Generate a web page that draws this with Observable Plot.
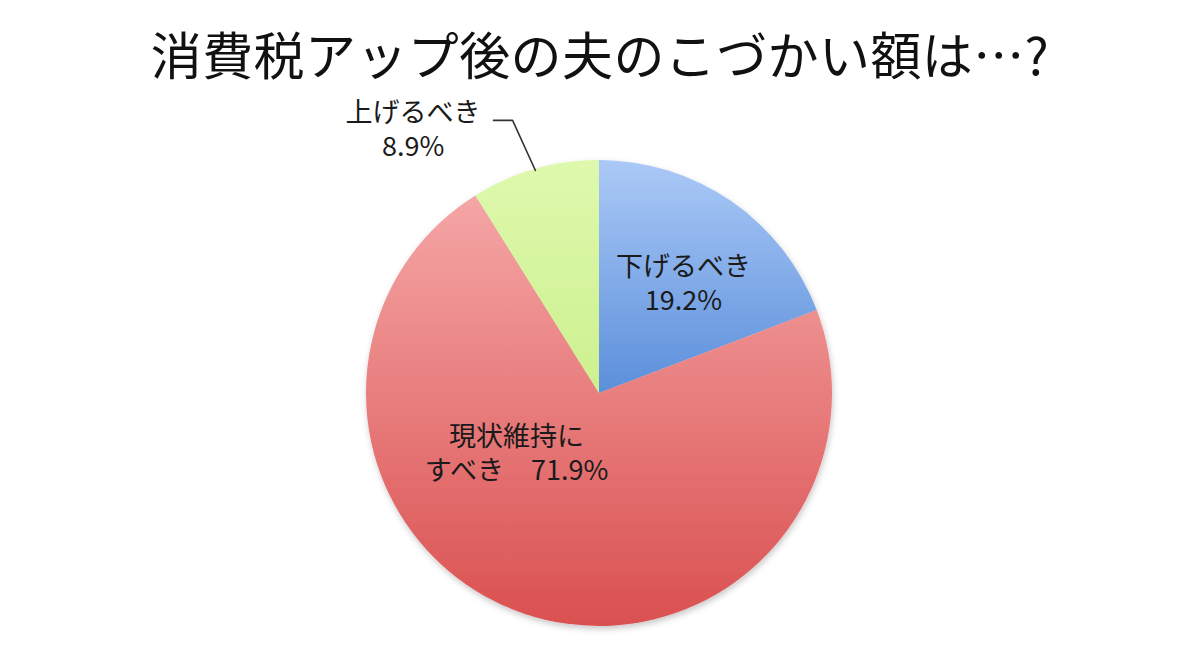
<!DOCTYPE html>
<html><head><meta charset="utf-8">
<script src="https://cdn.jsdelivr.net/npm/d3@7"></script>
<script src="https://cdn.jsdelivr.net/npm/@observablehq/plot@0.6"></script>
<style>
body{margin:0;background:#fff;width:1200px;height:657px;overflow:hidden;font-family:"Noto Sans CJK JP",sans-serif;}
#title{height:80px;box-sizing:border-box;margin:0;padding-top:28px;font-size:51px;font-weight:400;line-height:1;text-align:center;color:#111;letter-spacing:0.4px;white-space:nowrap;}
</style></head>
<body>
<div id="title">消費税アップ後の夫のこづかい額は…?</div>
<div id="chart"></div>
<script>
// data
const categories = ["下げるべき", "現状維持に\nすべき", "上げるべき"];
const values = [19.2, 71.9, 8.9];
// layout (label anchor in pie-unit coordinates, joiner between name and value)
const labelX = [0.36, -0.356, -0.80];
const labelY = [0.468, -0.26, 1.131];
const joiners = ["\n", "　", "\n"];
const leaderX = [-0.455, -0.373, -0.275];
const leaderY = [1.172, 1.172, 0.957];
// styles
const gradTop = ["#abc9f6", "#f5a6a6", "#def9ad"];
const gradBottom = ["#5b8fdb", "#da5050", "#cdf08f"];

const slices = categories.map((c, i) => ({name: c, value: values[i], i}));
const lines = [];
slices.forEach((d, i) => {
  const parts = `${d.name}${joiners[i]}${d.value}%`.split("\n");
  parts.forEach((t, k) => lines.push({text: t, x: labelX[i], y: labelY[i], dy: (k - (parts.length - 1) / 2) * 34}));
});
const leader = leaderX.map((x, i) => ({x, y: leaderY[i]}));

function pieMark(index, scales, values_, dimensions, context) {
  const g = d3.create("svg:g");
  const cx = scales.x(0), cy = scales.y(0);
  const r = scales.x(1) - scales.x(0);
  const defs = g.append("defs");
  const f = defs.append("filter").attr("id", "pieShadow").attr("x", "-10%").attr("y", "-10%").attr("width", "120%").attr("height", "125%");
  f.append("feDropShadow").attr("dx", 1).attr("dy", 3).attr("stdDeviation", 3).attr("flood-color", "#000").attr("flood-opacity", 0.22);
  slices.forEach((d, i) => {
    const lg = defs.append("linearGradient").attr("id", "pg" + i).attr("x1", 0).attr("y1", 0).attr("x2", 0).attr("y2", 1);
    lg.append("stop").attr("offset", "0%").attr("stop-color", gradTop[i]);
    lg.append("stop").attr("offset", "100%").attr("stop-color", gradBottom[i]);
  });
  const arcs = d3.pie().sort(null).value(d => d.value).startAngle(0).endAngle(2 * Math.PI)(slices);
  const arc = d3.arc().innerRadius(0).outerRadius(r);
  const pg = g.append("g").attr("transform", `translate(${cx},${cy})`).attr("filter", "url(#pieShadow)");
  pg.selectAll("path").data(arcs).join("path")
    .attr("d", arc)
    .attr("fill", d => `url(#pg${d.data.i})`);
  return g.node();
}

const textMarks = [...new Set(lines.map(d => d.dy))].map(dy =>
  Plot.text(lines.filter(d => d.dy === dy), {x: "x", y: "y", text: "text", dy, fontSize: 27, fill: "#1a1a1a", textAnchor: "middle"})
);

const chart = Plot.plot({
  width: 1200,
  height: 577,
  marginLeft: 366,
  marginRight: 368,
  marginTop: 80,
  marginBottom: 31,
  x: {domain: [-1, 1], axis: null},
  y: {domain: [-1, 1], axis: null},
  style: {fontFamily: "'Noto Sans CJK JP', sans-serif", background: "#fff"},
  marks: [
    pieMark,
    Plot.line(leader, {x: "x", y: "y", stroke: "#333", strokeWidth: 1.6}),
    ...textMarks
  ]
});
document.getElementById("chart").appendChild(chart);
</script>
</body></html>
